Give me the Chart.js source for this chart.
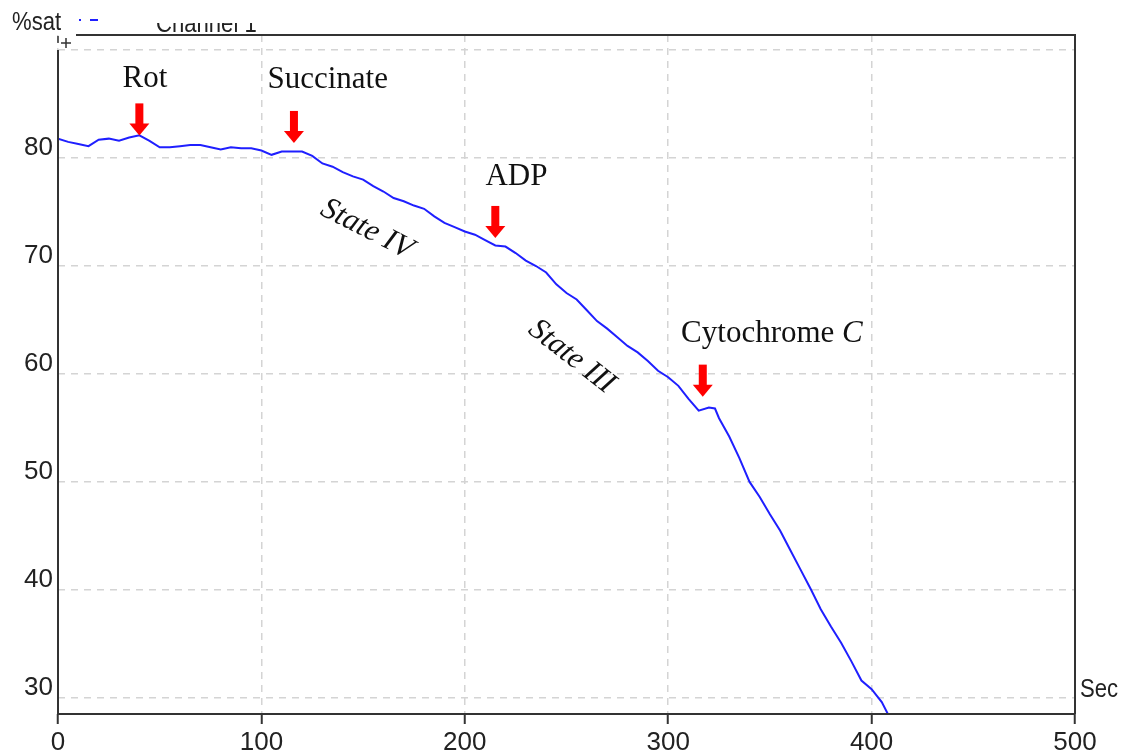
<!DOCTYPE html>
<html>
<head>
<meta charset="utf-8">
<script src="https://cdn.jsdelivr.net/npm/chart.js@4"></script>
<style>
  html, body { margin: 0; padding: 0; background: #fff; }
  #wrap { width: 1126px; height: 756px; }
</style>
</head>
<body>
<div id="wrap"><canvas id="chartOxygen" width="1126" height="756"></canvas></div>
<script>
// ---- Data ----
const timeSec = [
  0, 5, 10, 15, 20, 25, 30, 35, 40, 45,
  50, 55, 60, 65, 70, 75, 80, 85, 90, 95,
  100, 105, 110, 115, 120, 125, 130, 135, 140, 145,
  150, 155, 160, 165, 170, 175, 180, 185, 190, 195,
  200, 205, 210, 215, 220, 225, 230, 235, 240, 245,
  250, 255, 260, 265, 270, 275, 280, 285, 290, 295,
  300, 305, 310, 315, 320,
  323,
  325, 330, 335, 340, 345, 350, 355, 360, 365, 370, 375, 380, 385, 390, 395, 400, 405,
  408
];
const satValues = [
  81.8, 81.5, 81.3, 81.1, 81.7, 81.8, 81.6, 81.9, 82.1, 81.6,
  81.0, 81.0, 81.1, 81.2, 81.2, 81.0, 80.8, 81.0, 80.9, 80.9,
  80.7, 80.3, 80.6, 80.6, 80.6, 80.2, 79.5, 79.2, 78.7, 78.3,
  78.0, 77.4, 76.9, 76.3, 76.0, 75.6, 75.3, 74.6, 74.0, 73.6,
  73.2, 72.9, 72.4, 71.9, 71.8, 71.2, 70.5, 70.0, 69.4, 68.3,
  67.5, 66.9, 65.9, 64.9, 64.2, 63.4, 62.6, 62.0, 61.2, 60.3,
  59.7, 58.9, 57.7, 56.6, 56.9,
  56.8,
  55.9, 54.2, 52.2, 50.0, 48.6, 47.0, 45.5, 43.7, 41.9, 40.1, 38.2, 36.6, 35.1, 33.4, 31.6, 30.8, 29.6,
  28.5
];
const xTicks = [0, 100, 200, 300, 400, 500];
const yTicks = [30, 40, 50, 60, 70, 80, 90];
const yTickLabels = ["30", "40", "50", "60", "70", "80", ""];

// additions (arrows): time, value at arrow tip
const addLabels = ["Rot", "Succinate", "ADP", "Cytochrome "];
const arrowTime = [40, 116, 215, 317];
const arrowTipValue = [82.1, 81.4, 72.6, 57.9];
const labelTime = [42.7, 132.6, 225.4, 351];
const labelValue = [86.6, 86.5, 77.5, 63.0];

// states (rotated italic labels)
const stateLabels = ["State IV", "State III"];
const stateTime = [151.8, 252.5];
const stateValue = [73.4, 61.6];
const stateAngle = [27, 38];

// ---- Styles ----
const AXIS = "#333333";
const GRID = "#d4d4d4";
const TRACE = "#1f1fff";
const ARROW = "#ff0000";
const SANS = "'Liberation Sans', Arial, sans-serif";
const SERIF = "'Liberation Serif', 'Times New Roman', serif";

// narrow-ish caption text (squeezed horizontally)
function squeezedText(ctx, txt, x, y, sx) {
  ctx.save();
  ctx.translate(x, y);
  ctx.scale(sx, 1);
  ctx.fillText(txt, 0, 0);
  ctx.restore();
}

const framePlugin = {
  id: "frame",
  afterDraw(chart) {
    const { ctx, chartArea: a, scales: { x, y } } = chart;
    ctx.save();
    // frame
    ctx.strokeStyle = AXIS;
    ctx.lineWidth = 2;
    ctx.setLineDash([]);
    ctx.beginPath();
    ctx.moveTo(a.left, a.top + 15);
    ctx.lineTo(a.left, a.bottom);
    ctx.lineTo(a.right, a.bottom);
    ctx.moveTo(a.left + 18, a.top);
    ctx.lineTo(a.right, a.top);
    ctx.lineTo(a.right, a.bottom);
    ctx.stroke();
    // little "+" marker at top-left corner
    ctx.lineWidth = 1.5;
    ctx.beginPath();
    ctx.moveTo(a.left + 3, a.top + 8);
    ctx.lineTo(a.left + 13, a.top + 8);
    ctx.moveTo(a.left + 8, a.top + 3);
    ctx.lineTo(a.left + 8, a.top + 13);
    ctx.moveTo(a.left, a.top + 1);
    ctx.lineTo(a.left, a.top + 8);
    ctx.stroke();

    // axis captions
    ctx.fillStyle = "#222";
    ctx.font = "26px " + SANS;
    ctx.textBaseline = "alphabetic";
    ctx.textAlign = "left";
    squeezedText(ctx, "%sat", 12, 30, 0.85);
    squeezedText(ctx, "Sec", a.right + 5, 697, 0.85);

    // legend fragment
    ctx.fillStyle = TRACE;
    ctx.fillRect(79, 19, 2, 2);
    ctx.fillRect(90, 19, 8, 2);
    ctx.save();
    ctx.beginPath();
    ctx.rect(140, 23, 140, 10);
    ctx.clip();
    ctx.fillStyle = "#222";
    squeezedText(ctx, "Channel 1", 156, 32, 0.85);
    ctx.restore();

    // arrows
    ctx.fillStyle = ARROW;
    arrowTime.forEach((t, i) => {
      const px = x.getPixelForValue(t);
      const tip = y.getPixelForValue(arrowTipValue[i]);
      const top = tip - 32;
      ctx.fillRect(px - 4, top, 8, 21);
      ctx.beginPath();
      ctx.moveTo(px - 10, tip - 12);
      ctx.lineTo(px + 10, tip - 12);
      ctx.lineTo(px, tip);
      ctx.closePath();
      ctx.fill();
    });

    // addition labels
    ctx.fillStyle = "#111";
    const fs = 31;
    ctx.font = fs + "px " + SERIF;
    addLabels.forEach((txt, i) => {
      const px = x.getPixelForValue(labelTime[i]);
      const py = y.getPixelForValue(labelValue[i]);
      if (i === 3) {
        ctx.font = fs + "px " + SERIF;
        const w1 = ctx.measureText(txt).width;
        ctx.font = "italic " + fs + "px " + SERIF;
        const w2 = ctx.measureText("C").width;
        const start = px - (w1 + w2) / 2;
        ctx.textAlign = "left";
        ctx.font = fs + "px " + SERIF;
        ctx.fillText(txt, start, py);
        ctx.font = "italic " + fs + "px " + SERIF;
        ctx.fillText("C", start + w1, py);
      } else {
        ctx.textAlign = "center";
        ctx.fillText(txt, px, py);
      }
    });

    // state labels
    ctx.font = "italic " + fs + "px " + SERIF;
    ctx.textAlign = "center";
    ctx.textBaseline = "middle";
    stateLabels.forEach((txt, i) => {
      ctx.save();
      ctx.translate(x.getPixelForValue(stateTime[i]), y.getPixelForValue(stateValue[i]));
      ctx.rotate(stateAngle[i] * Math.PI / 180);
      ctx.fillText(txt, 0, 0);
      ctx.restore();
    });
    ctx.restore();
  }
};

new Chart(document.getElementById("chartOxygen"), {
  type: "line",
  data: {
    datasets: [{
      label: "Channel 1",
      data: timeSec.map((t, i) => ({ x: t, y: satValues[i] })),
      borderColor: TRACE,
      borderWidth: 2,
      pointRadius: 0,
      tension: 0,
      fill: false
    }]
  },
  options: {
    responsive: false,
    animation: false,
    layout: { padding: { left: 0, right: 51, top: 35, bottom: 0 } },
    plugins: { legend: { display: false }, tooltip: { enabled: false } },
    scales: {
      x: {
        type: "linear",
        min: 0,
        max: 500,
        afterBuildTicks: (s) => { s.ticks = xTicks.map((v) => ({ value: v })); },
        afterFit: (s) => { s.height = 42; },
        grid: {
          color: GRID,
          lineWidth: 1.5,
          tickColor: AXIS,
          tickWidth: 2,
          tickLength: 10,
          tickBorderDash: []
        },
        border: { display: false, dash: [7, 6] },
        ticks: {
          color: "#222",
          font: { family: SANS, size: 26 },
          padding: 3,
          maxRotation: 0,
          autoSkip: false
        }
      },
      y: {
        type: "linear",
        min: 28.5,
        max: 91.4,
        afterBuildTicks: (s) => { s.ticks = yTicks.map((v) => ({ value: v })); },
        afterFit: (s) => { s.width = 58; },
        grid: {
          color: GRID,
          lineWidth: 1.5,
          drawTicks: false
        },
        border: { display: false, dash: [7, 6] },
        ticks: {
          color: "#222",
          font: { family: SANS, size: 26 },
          padding: 5,
          labelOffset: -10,
          autoSkip: false,
          callback: (v, i) => yTickLabels[i]
        }
      }
    }
  },
  plugins: [framePlugin]
});
</script>
</body>
</html>
